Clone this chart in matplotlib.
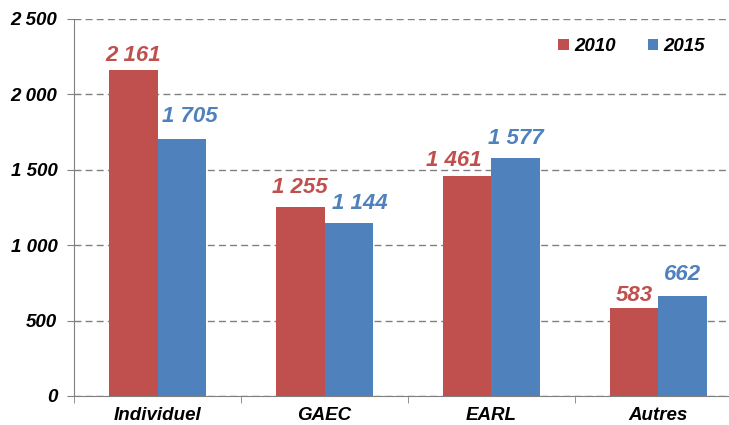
import numpy as np
import matplotlib.pyplot as plt
from matplotlib.ticker import FuncFormatter

plt.rcParams['font.family'] = ['Liberation Sans', 'DejaVu Sans']

categories = ['Individuel', 'GAEC', 'EARL', 'Autres']
years = ['2010', '2015']
values_2010 = [2161, 1255, 1461, 583]
values_2015 = [1705, 1144, 1577, 662]
colors = ['#C0504D', '#4F81BD']

# label nudges in pixels (dx, gap above bar), as placed by hand in the original
nudge_2010 = [(0, 9), (0, 14), (-13, 10), (0, 7)]
nudge_2015 = [(8, 17), (11, 14), (0, 14), (0, 16)]


def fmt(v, pos=None):
    return f'{int(v):,}'.replace(',', ' ')


fig = plt.figure(figsize=(7.29, 4.25), dpi=100)
ax = fig.add_axes([74 / 729, 29 / 425, 668 / 729, 377 / 425])

x = np.arange(len(categories))
w = 0.29
series = [values_2010, values_2015]
nudges = [nudge_2010, nudge_2015]
for i in range(2):
    pos = x + (i - 0.5) * w
    ax.bar(pos, series[i], width=w, color=colors[i], label=years[i], zorder=3)
    for p, v, (dx, dy) in zip(pos, series[i], nudges[i]):
        ax.annotate(fmt(v), (p, v), xytext=(dx, dy), textcoords='offset pixels',
                    ha='center', va='baseline', color=colors[i],
                    fontsize=16, fontweight='bold', fontstyle='italic')

ax.set_xlim(-0.5, len(categories) - 0.5)
ax.set_ylim(0, 2500)
ax.set_yticks(range(0, 2501, 500))
ax.yaxis.set_major_formatter(FuncFormatter(fmt))
ax.yaxis.grid(True, linestyle=(0, (5, 3)), color='#808080', linewidth=1, zorder=0)

ax.set_xticks(x)
ax.set_xticklabels(categories, fontsize=13.5, fontweight='bold', fontstyle='italic')
ax.set_xticks(np.arange(-0.5, len(categories)), minor=True)
ax.tick_params(axis='x', which='major', length=0, pad=8)
ax.tick_params(axis='x', which='minor', length=5, color='#808080')
ax.tick_params(axis='y', length=5, color='#808080', pad=7)
for lbl in ax.get_yticklabels():
    lbl.set_fontsize(13.5)
    lbl.set_fontweight('bold')
    lbl.set_fontstyle('italic')

for s in ['top', 'right']:
    ax.spines[s].set_visible(False)
for s in ['left', 'bottom']:
    ax.spines[s].set_color('#808080')

fig.legend(*ax.get_legend_handles_labels(), loc='upper right',
           bbox_to_anchor=(705 / 729, 1 - 38 / 425), ncol=2, frameon=False,
           borderpad=0, borderaxespad=0,
           handlelength=0.55, handleheight=0.55, handletextpad=0.3, columnspacing=1.7,
           prop={'size': 13.5, 'weight': 'bold', 'style': 'italic'})

fig.savefig('out.png', dpi=100)
